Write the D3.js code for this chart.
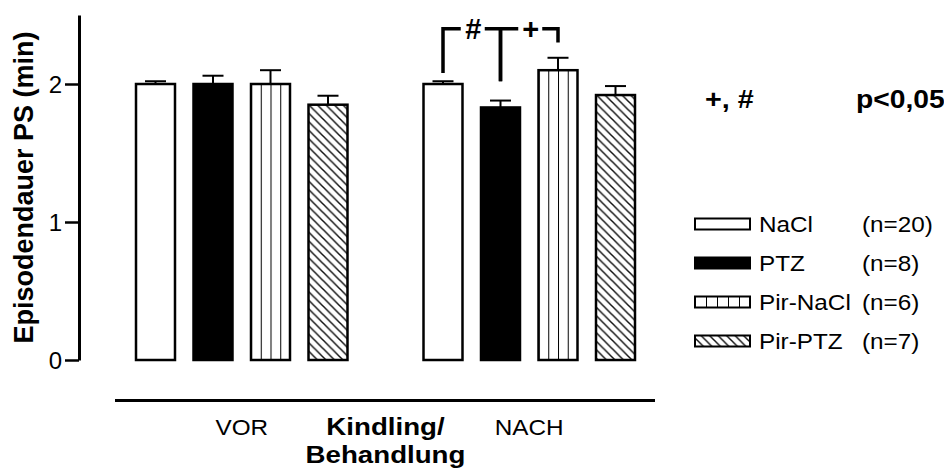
<!DOCTYPE html>
<html>
<head>
<meta charset="utf-8">
<script src="https://cdn.jsdelivr.net/npm/d3@7"></script>
<style>
  body { margin: 0; background: #fff; }
  text { font-family: "Liberation Sans", Arial, sans-serif; fill: #000; }
</style>
</head>
<body>
<div id="wrapper"></div>
<script>
const groups = ["VOR", "NACH"];
const series = ["NaCl", "PTZ", "Pir-NaCl", "Pir-PTZ"];
const nValues = [20, 8, 6, 7];
const meanVor = [2.00, 2.00, 2.00, 1.85];
const semVor = [0.02, 0.06, 0.10, 0.065];
const meanNach = [2.00, 1.83, 2.10, 1.92];
const semNach = [0.02, 0.05, 0.09, 0.065];
const yTicks = [0, 1, 2];
// significance brackets in the NACH group
const brackets = [
    { from: "NaCl", to: "PTZ", label: "#", fromEnd: 2.08, toEnd: 2.02 },
    { from: "PTZ", to: "Pir-NaCl", label: "+", fromEnd: 2.02, toEnd: 2.30 }
];
const bracketLevel = 2.4;

function buildPlot() {
    const width = 944, height = 468;
    const svg = d3.select("#wrapper").append("svg")
        .attr("width", width)
        .attr("height", height);

    const defs = svg.append("defs");
    // vertical stripes: 4 columns per bar, 5 in the legend
    [["vstripes", 0.25], ["vstripesLegend", 0.2]].forEach(([id, w]) => {
        const p = defs.append("pattern")
            .attr("id", id)
            .attr("patternUnits", "objectBoundingBox")
            .attr("width", w).attr("height", 1);
        p.append("line")
            .attr("x1", 0).attr("x2", 0).attr("y1", 0).attr("y2", 1000)
            .attr("stroke", "#000").attr("stroke-width", 2);
    });
    const diag = defs.append("pattern")
        .attr("id", "diag")
        .attr("patternUnits", "userSpaceOnUse")
        .attr("width", 8.5).attr("height", 8.5);
    diag.append("path")
        .attr("d", "M0,0L8.5,8.5M-2,6.5L2,10.5M6.5,-2L10.5,2")
        .attr("stroke", "#111").attr("stroke-width", 1.5);

    const fills = ["#fff", "#000", "url(#vstripes)", "url(#diag)"];
    const legendFills = ["#fff", "#000", "url(#vstripesLegend)", "url(#diag)"];

    const yScaler = d3.scaleLinear().domain([0, 2.5]).range([360, 15]);
    const x0 = d3.scaleBand().domain(groups).range([126.75, 644.25]).paddingInner(0.2);
    const x1 = d3.scaleBand().domain(series).range([0, x0.bandwidth()])
        .paddingInner(0.322).paddingOuter(0.161);

    const data = [];
    groups.forEach((g, gi) => {
        const means = gi === 0 ? meanVor : meanNach;
        const sems = gi === 0 ? semVor : semNach;
        series.forEach((s, si) => data.push({ group: g, series: s, i: si, mean: means[si], sem: sems[si] }));
    });
    const xAccessor = d => x0(d.group) + x1(d.series);
    const cx = (g, s) => x0(g) + x1(s) + x1.bandwidth() / 2;

    // error bars (drawn first so the bar outline sits on top)
    const err = svg.append("g").attr("stroke", "#000").attr("stroke-width", 2);
    data.forEach(d => {
        const c = cx(d.group, d.series);
        err.append("line")
            .attr("x1", c).attr("x2", c)
            .attr("y1", yScaler(d.mean)).attr("y2", yScaler(d.mean + d.sem));
        err.append("line")
            .attr("x1", c - 10.5).attr("x2", c + 10.5)
            .attr("y1", yScaler(d.mean + d.sem)).attr("y2", yScaler(d.mean + d.sem));
    });

    svg.append("g").selectAll("rect")
        .data(data)
        .join("rect")
        .attr("x", xAccessor)
        .attr("y", d => yScaler(d.mean))
        .attr("width", x1.bandwidth())
        .attr("height", d => yScaler(0) - yScaler(d.mean))
        .attr("fill", d => fills[d.i])
        .attr("stroke", "#000")
        .attr("stroke-width", 2.5);

    // y axis
    const yAxis = svg.append("g")
        .attr("transform", "translate(79,0)")
        .call(d3.axisLeft(yScaler).tickValues(yTicks).tickFormat(d3.format("d"))
            .tickSize(14).tickSizeOuter(0).tickPadding(3));
    yAxis.select(".domain").attr("stroke-width", 3);
    yAxis.selectAll(".tick line").attr("stroke-width", 2.5);
    yAxis.selectAll(".tick text")
        .attr("font-size", 24)
        .attr("font-family", "Liberation Sans, Arial, sans-serif")
        .attr("dy", "0.36em");

    svg.append("text")
        .attr("transform", `translate(33,${(yScaler(0) + yScaler(2.5)) / 2}) rotate(-90)`)
        .attr("text-anchor", "middle")
        .attr("font-size", 27)
        .attr("font-weight", "bold")
        .text("Episodendauer PS (min)");

    // category rule and labels
    svg.append("line")
        .attr("x1", 115).attr("x2", 655)
        .attr("y1", 400.5).attr("y2", 400.5)
        .attr("stroke", "#000").attr("stroke-width", 3);

    function label(x, y, txt, size, bold, anchor) {
        svg.append("text")
            .attr("transform", `translate(${x},${y}) scale(1.13,1)`)
            .attr("text-anchor", anchor || "middle")
            .attr("font-size", size)
            .attr("font-weight", bold ? "bold" : "normal")
            .text(txt);
    }
    groups.forEach(g => label(x0(g) + x0.bandwidth() / 2, 435, g, 21.5, false));
    const mid = (x0("VOR") + x0.bandwidth() + x0("NACH")) / 2;
    label(mid, 435, "Kindling/", 24.5, true);
    label(mid, 463, "Behandlung", 24.5, true);

    // significance brackets
    const br = svg.append("g")
        .attr("stroke", "#000").attr("stroke-width", 3.5).attr("fill", "none");
    const by = yScaler(bracketLevel);
    brackets.forEach(b => {
        const xa = cx("NACH", b.from), xb = cx("NACH", b.to);
        const m = (xa + xb) / 2;
        br.append("path").attr("d", `M${xa},${yScaler(b.fromEnd)}V${by}H${m - 11}`);
        br.append("path").attr("d", `M${m + 13},${by}H${xb}V${yScaler(b.toEnd)}`);
        svg.append("text")
            .attr("x", m + 1.5).attr("y", by + 10)
            .attr("text-anchor", "middle")
            .attr("font-size", 29)
            .attr("font-weight", "bold")
            .text(b.label);
    });

    label(705, 108, "+, #", 25.5, true, "start");
    label(856, 108, "p<0,05", 25, true, "start");

    // legend
    const legendY = [232, 271, 310, 349];
    series.forEach((s, i) => {
        const yb = legendY[i];
        svg.append("rect")
            .attr("x", 695).attr("y", yb - 13.5)
            .attr("width", 55).attr("height", 11)
            .attr("fill", legendFills[i])
            .attr("stroke", "#000").attr("stroke-width", 2);
        label(759, yb, s, 21.5, false, "start");
        label(862, yb, `(n=${nValues[i]})`, 21.5, false, "start");
    });
}

buildPlot();
</script>
</body>
</html>
